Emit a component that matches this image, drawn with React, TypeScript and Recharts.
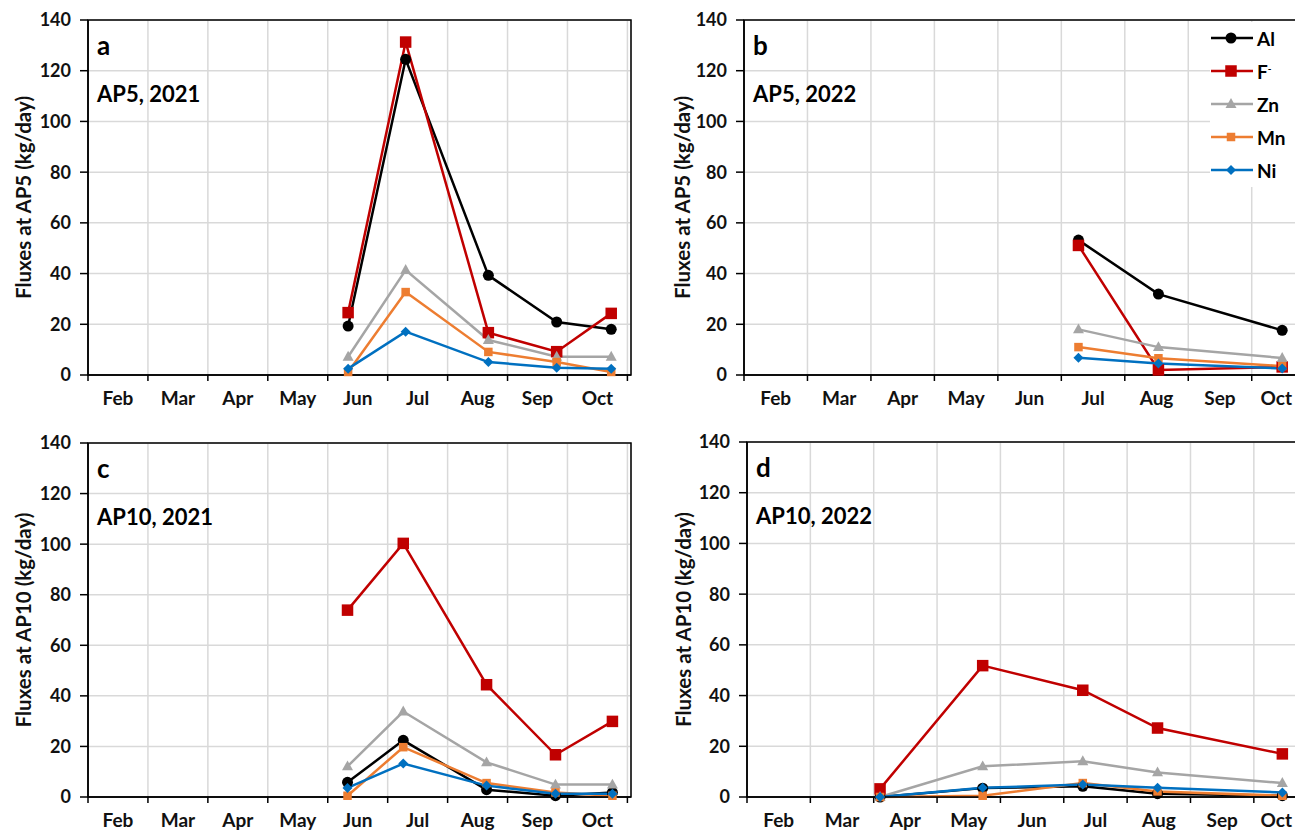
import React from "react";
import {
  LineChart,
  Line,
  XAxis,
  YAxis,
  CartesianGrid,
  ReferenceArea,
} from "recharts";

// month labels, x values are in "months since 1 Feb"
const months = ["Feb", "Mar", "Apr", "May", "Jun", "Jul", "Aug", "Sep", "Oct"];
const monthTicks = [0, 1, 2, 3, 4, 5, 6, 7, 8, 9];
const yTicks = [0, 20, 40, 60, 80, 100, 120, 140];

// a: AP5, 2021
const xA = [4.34, 5.3, 6.68, 7.82, 8.73];
const alA = [19.3, 124.5, 39.3, 20.9, 18.0];
const fA = [24.6, 131.3, 16.7, 9.2, 24.3];
const znA = [7.2, 41.4, 13.8, 7.2, 7.2];
const mnA = [1.2, 32.7, 9.1, 5.1, 1.2];
const niA = [2.5, 17.1, 5.1, 2.9, 2.5];

// b: AP5, 2022
const xB = [5.27, 6.53, 8.48];
const alB = [53.2, 31.9, 17.6];
const fB = [51.1, 2.0, 3.2];
const znB = [18.0, 11.0, 6.7];
const mnB = [11.0, 6.6, 3.5];
const niB = [6.8, 4.5, 2.6];

// c: AP10, 2021
const xC = [4.33, 5.26, 6.65, 7.8, 8.75];
const alC = [5.8, 22.4, 2.9, 0.5, 1.8];
const fC = [73.9, 100.3, 44.4, 16.7, 29.9];
const znC = [12.1, 33.8, 13.7, 4.9, 4.9];
const mnC = [0.5, 19.7, 5.5, 1.8, 0.5];
const niC = [3.6, 13.2, 4.5, 1.3, 1.3];

// d: AP10, 2022
const xD = [2.1, 3.72, 5.3, 6.48, 8.45];
const alD = [0, 3.5, 4.2, 1.3, 0.5];
const fD = [3.2, 51.8, 42.1, 27.2, 17.0];
const znD = [0, 12.1, 14.1, 9.7, 5.5];
const mnD = [0, 0.5, 5.5, 2.2, 0.5];
const niD = [0, 3.6, 4.9, 3.6, 1.8];

const FONT = "Lato, 'Open Sans', sans-serif";
const X_MAX = 9.06;
const PAGE_W = 1295;

const series = [
  { key: "Al", color: "#000000", shape: "circle", size: 5.5 },
  { key: "F", color: "#c00000", shape: "square", size: 11.5 },
  { key: "Zn", color: "#a5a5a5", shape: "triangle", size: 11 },
  { key: "Mn", color: "#ed7d31", shape: "square", size: 8.5 },
  { key: "Ni", color: "#0070c0", shape: "diamond", size: 9 },
];

function buildRows(xs: number[], al: number[], f: number[], zn: number[], mn: number[], ni: number[]) {
  return xs.map((x, i) => ({ x, Al: al[i], F: f[i], Zn: zn[i], Mn: mn[i], Ni: ni[i] }));
}

function Marker({ shape, color, size, cx, cy }: any) {
  if (shape === "circle") return <circle cx={cx} cy={cy} r={size} fill={color} />;
  if (shape === "square")
    return <rect x={cx - size / 2} y={cy - size / 2} width={size} height={size} fill={color} />;
  if (shape === "triangle") {
    const h = size * 0.9;
    return (
      <polygon
        points={`${cx},${cy - h * 0.6} ${cx + size / 2},${cy + h * 0.4} ${cx - size / 2},${cy + h * 0.4}`}
        fill={color}
      />
    );
  }
  const r = size / 2 + 0.5;
  return <polygon points={`${cx},${cy - r} ${cx + r},${cy} ${cx},${cy + r} ${cx - r},${cy}`} fill={color} />;
}

const makeDot = (s: any) => (props: any) => {
  const { cx, cy, index } = props;
  if (cx == null || cy == null) return <g key={index} />;
  return (
    <g key={`${s.key}-${index}`}>
      <Marker shape={s.shape} color={s.color} size={s.size} cx={cx} cy={cy} />
    </g>
  );
};

// month name sits in the middle of its month, kept inside the page
const MonthTick = ({ x, y, payload, step, maxX }: any) => {
  const i = payload.value;
  if (i >= months.length) return <g />;
  let lx = x + step / 2;
  let anchor = "middle";
  if (lx + 17 > maxX) {
    lx = maxX;
    anchor = "end";
  }
  return (
    <text
      x={lx}
      y={y + 22}
      textAnchor={anchor}
      fontFamily={FONT}
      fontWeight={700}
      fontSize={19}
      fill="#111"
    >
      {months[i]}
    </text>
  );
};

interface PanelProps {
  left: number;
  top: number;
  width: number;
  height: number;
  plotLeft: number;
  plotTop: number;
  plotW: number;
  plotH: number;
  titleX: number;
  letter: string;
  label: string;
  yTitle: string;
  data: any[];
}

function Panel(p: PanelProps) {
  const yAxisW = 60;
  const xAxisH = 30;
  const margin = {
    left: p.plotLeft - p.left - yAxisW,
    top: p.plotTop - p.top,
    right: p.width - (p.plotLeft - p.left) - p.plotW,
    bottom: p.height - (p.plotTop - p.top) - p.plotH - xAxisH,
  };
  const step = p.plotW / X_MAX;
  const lx = p.plotLeft - p.left;
  const ly = p.plotTop - p.top;
  const midY = ly + p.plotH / 2;
  const tx = p.titleX - p.left;

  return (
    <div style={{ position: "absolute", left: p.left, top: p.top }}>
      <LineChart width={p.width} height={p.height} data={p.data} margin={margin}>
        <CartesianGrid stroke="#d9d9d9" strokeWidth={1.5} />
        <XAxis
          dataKey="x"
          type="number"
          domain={[0, X_MAX]}
          ticks={monthTicks}
          interval={0}
          height={xAxisH}
          axisLine={{ stroke: "#000", strokeWidth: 1.5 }}
          tickLine={{ stroke: "#000", strokeWidth: 1.5 }}
          tickSize={6}
          tick={<MonthTick step={step} maxX={PAGE_W - 3 - p.left} />}
        />
        <YAxis
          type="number"
          domain={[0, 140]}
          ticks={yTicks}
          interval={0}
          width={yAxisW}
          axisLine={{ stroke: "#000", strokeWidth: 1.5 }}
          tickLine={{ stroke: "#000", strokeWidth: 1.5 }}
          tickSize={8}
          tickMargin={9}
          tick={{ fontFamily: FONT, fontWeight: 700, fontSize: 18, fill: "#111" }}
        />
        <ReferenceArea x1={0} x2={X_MAX} y1={0} y2={140} fill="none" stroke="#000" strokeWidth={1.5} />
        {series.map((s) => (
          <Line
            key={s.key}
            type="linear"
            dataKey={s.key}
            stroke={s.color}
            strokeWidth={2.5}
            dot={makeDot(s)}
            activeDot={false}
            isAnimationActive={false}
          />
        ))}
        <text x={lx + 9} y={ly + 35} fontFamily={FONT} fontWeight={700} fontSize={26} fill="#000">
          {p.letter}
        </text>
        <text x={lx + 9} y={ly + 82} fontFamily={FONT} fontWeight={700} fontSize={22} fill="#000">
          {p.label}
        </text>
        <text
          x={tx}
          y={midY}
          transform={`rotate(-90 ${tx} ${midY})`}
          textAnchor="middle"
          dominantBaseline="central"
          fontFamily={FONT}
          fontWeight={700}
          fontSize={20.5}
          fill="#111"
        >
          {p.yTitle}
        </text>
      </LineChart>
    </div>
  );
}

function LegendBox() {
  return (
    <div
      style={{
        position: "absolute",
        left: 1210,
        top: 22,
        width: 85,
        height: 165,
        background: "#fff",
        fontFamily: FONT,
        fontWeight: 700,
        fontSize: 19,
      }}
    >
      {series.map((s, i) => (
        <div
          key={s.key}
          style={{ position: "absolute", left: 0, top: 3 + i * 33, height: 26, display: "flex", alignItems: "center" }}
        >
          <svg width={44} height={20}>
            <line x1={1} y1={10} x2={43} y2={10} stroke={s.color} strokeWidth={2.5} />
            <Marker shape={s.shape} color={s.color} size={s.size} cx={21} cy={10} />
          </svg>
          <span style={{ marginLeft: 3, color: "#000" }}>
            {s.key}
            {s.key === "F" ? <sup style={{ fontSize: 10 }}>-</sup> : null}
          </span>
        </div>
      ))}
    </div>
  );
}

export default function App() {
  const dataA = buildRows(xA, alA, fA, znA, mnA, niA);
  const dataB = buildRows(xB, alB, fB, znB, mnB, niB);
  const dataC = buildRows(xC, alC, fC, znC, mnC, niC);
  const dataD = buildRows(xD, alD, fD, znD, mnD, niD);

  return (
    <div
      style={{
        position: "fixed",
        left: 0,
        top: 0,
        width: PAGE_W,
        height: 830,
        overflow: "hidden",
        background: "#fff",
      }}
    >
      <Panel
        left={0} top={0} width={660} height={420}
        plotLeft={88} plotTop={20} plotW={543} plotH={355}
        titleX={23} letter="a" label="AP5, 2021" yTitle="Fluxes at AP5 (kg/day)" data={dataA}
      />
      <Panel
        left={660} top={0} width={680} height={420}
        plotLeft={744} plotTop={20} plotW={575} plotH={355}
        titleX={682} letter="b" label="AP5, 2022" yTitle="Fluxes at AP5 (kg/day)" data={dataB}
      />
      <Panel
        left={0} top={420} width={660} height={410}
        plotLeft={88} plotTop={443} plotW={543} plotH={354}
        titleX={23} letter="c" label="AP10, 2021" yTitle="Fluxes at AP10 (kg/day)" data={dataC}
      />
      <Panel
        left={660} top={420} width={680} height={410}
        plotLeft={747} plotTop={442} plotW={574} plotH={355}
        titleX={683} letter="d" label="AP10, 2022" yTitle="Fluxes at AP10 (kg/day)" data={dataD}
      />
      <LegendBox />
    </div>
  );
}
